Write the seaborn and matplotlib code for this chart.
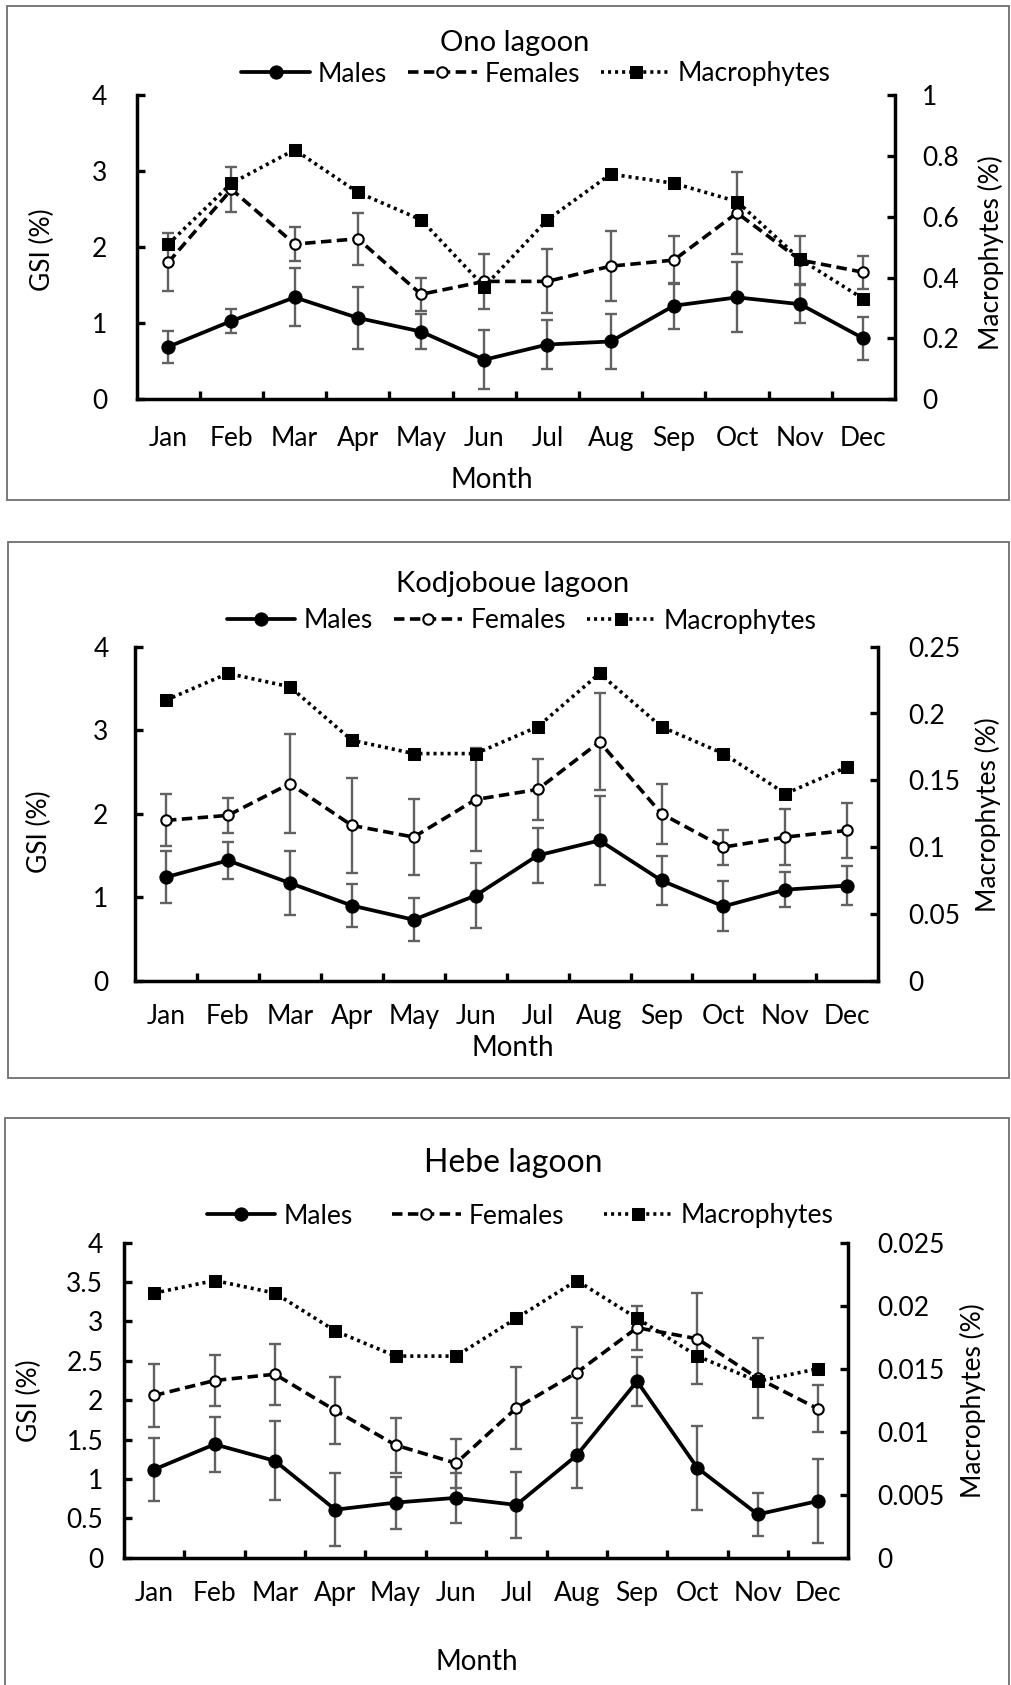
import numpy as np
import pandas as pd
import matplotlib
matplotlib.use("Agg")
import matplotlib.pyplot as plt
from matplotlib.patches import Rectangle
from matplotlib.ticker import FixedLocator, MultipleLocator, FuncFormatter
import seaborn as sns

# ---- data ----
months = ["Jan", "Feb", "Mar", "Apr", "May", "Jun",
          "Jul", "Aug", "Sep", "Oct", "Nov", "Dec"]

ono_males = [0.69, 1.03, 1.34, 1.07, 0.89, 0.52, 0.72, 0.76, 1.23, 1.34, 1.25, 0.80]
ono_males_sd = [0.21, 0.16, 0.38, 0.41, 0.23, 0.39, 0.32, 0.36, 0.30, 0.46, 0.25, 0.28]
ono_females = [1.80, 2.76, 2.04, 2.11, 1.38, 1.55, 1.55, 1.75, 1.83, 2.45, 1.83, 1.67]
ono_females_sd = [0.38, 0.30, 0.22, 0.34, 0.22, 0.36, 0.42, 0.46, 0.31, 0.54, 0.32, 0.22]
ono_macro = [0.51, 0.71, 0.82, 0.68, 0.59, 0.37, 0.59, 0.74, 0.71, 0.65, 0.46, 0.33]

kodj_males = [1.24, 1.44, 1.17, 0.90, 0.73, 1.02, 1.50, 1.68, 1.20, 0.89, 1.09, 1.14]
kodj_males_sd = [0.31, 0.22, 0.38, 0.26, 0.26, 0.39, 0.33, 0.53, 0.29, 0.30, 0.21, 0.23]
kodj_females = [1.92, 1.98, 2.36, 1.86, 1.72, 2.17, 2.29, 2.86, 2.00, 1.60, 1.72, 1.80]
kodj_females_sd = [0.31, 0.21, 0.59, 0.57, 0.46, 0.62, 0.36, 0.58, 0.36, 0.21, 0.34, 0.33]
kodj_macro = [0.21, 0.23, 0.22, 0.18, 0.17, 0.17, 0.19, 0.23, 0.19, 0.17, 0.14, 0.16]

hebe_males = [1.12, 1.44, 1.23, 0.61, 0.70, 0.76, 0.67, 1.30, 2.24, 1.14, 0.55, 0.72]
hebe_males_sd = [0.40, 0.35, 0.50, 0.46, 0.33, 0.32, 0.42, 0.41, 0.31, 0.53, 0.27, 0.53]
hebe_females = [2.06, 2.25, 2.33, 1.87, 1.43, 1.20, 1.90, 2.35, 2.92, 2.78, 2.28, 1.89]
hebe_females_sd = [0.40, 0.32, 0.39, 0.42, 0.35, 0.31, 0.52, 0.58, 0.28, 0.58, 0.51, 0.30]
hebe_macro = [0.021, 0.022, 0.021, 0.018, 0.016, 0.016, 0.019, 0.022, 0.019, 0.016, 0.014, 0.015]

# ---- style ----
sns.set_style("ticks")
plt.rcParams["font.family"] = ["Lato", "DejaVu Sans"]
for key in ["text.color", "axes.labelcolor", "xtick.color", "ytick.color", "axes.edgecolor"]:
    plt.rcParams[key] = "black"

W, H = 1011, 1685
ERR_COLOR = "#616161"
BOX_COLOR = "#6e6e6e"
FS = 19

fig = plt.figure(figsize=(W / 100, H / 100), dpi=100)


def px_rect(x0, y0, x1, y1):
    return [x0 / W, 1 - y1 / H, (x1 - x0) / W, (y1 - y0) / H]


def draw_panel(p):
    ax = fig.add_axes(px_rect(*p["axes_px"]))
    ax2 = ax.twinx()

    df = pd.DataFrame({"Month": months, "Males": p["males"],
                       "Females": p["females"], "Macrophytes": p["macro"]})

    sns.lineplot(data=df, x="Month", y="Males", ax=ax, sort=False, errorbar=None,
                 color="black", linewidth=2.7, marker="o", markersize=9.5,
                 markerfacecolor="black", markeredgecolor="black", legend=False, zorder=3)
    male_line = ax.lines[-1]
    sns.lineplot(data=df, x="Month", y="Females", ax=ax, sort=False, errorbar=None,
                 color="black", linewidth=2.6, marker="o", markersize=7.5,
                 markerfacecolor="white", markeredgecolor="black", markeredgewidth=1.5,
                 legend=False, zorder=3)
    female_line = ax.lines[-1]
    female_line.set_dashes((2.9, 1.5))

    ax.errorbar(months, p["males"], yerr=p["males_sd"], fmt="none", ecolor=ERR_COLOR,
                elinewidth=1.7, capsize=4.3, capthick=1.7, zorder=2)
    ax.errorbar(months, p["females"], yerr=p["females_sd"], fmt="none", ecolor=ERR_COLOR,
                elinewidth=1.7, capsize=4.3, capthick=1.7, zorder=2)

    sns.lineplot(data=df, x="Month", y="Macrophytes", ax=ax2, sort=False, errorbar=None,
                 color="black", linewidth=2.6, marker="s", markersize=8,
                 markerfacecolor="black", markeredgecolor="black", legend=False)
    macro_line = ax2.lines[-1]
    macro_line.set_dashes((0.85, 1.1))

    # axes limits / ticks
    ax.set_xlim(-0.5, len(months) - 0.5)
    ax.set_ylim(0, 4)
    ax2.set_ylim(0, p["macro_max"])
    ax.yaxis.set_major_locator(MultipleLocator(p["gsi_step"]))
    ax2.yaxis.set_major_locator(MultipleLocator(p["macro_max"] / 5))
    fmt = FuncFormatter(lambda v, pos: "%g" % round(v, 6))
    ax.yaxis.set_major_formatter(fmt)
    ax2.yaxis.set_major_formatter(fmt)

    ax.xaxis.set_minor_locator(FixedLocator(np.arange(0.5, len(months) - 1, 1.0)))
    ax.tick_params(axis="x", which="major", length=0, labelsize=FS, pad=p["xpad"])
    ax.tick_params(axis="x", which="minor", direction="in", length=6, width=2.4, bottom=True)
    ax.tick_params(axis="y", direction="in", length=6, width=2.4, labelsize=FS,
                   pad=p["ypad_left"], left=True)
    ax2.tick_params(axis="y", direction="in", length=6, width=2.4, labelsize=FS,
                    pad=p["ypad_right"], right=True)
    for lab in ax2.get_yticklabels():
        lab.set_ha("left")

    for a in (ax, ax2):
        a.spines["top"].set_visible(False)
        for s in a.spines.values():
            s.set_linewidth(2.5)
            s.set_color("black")
    ax.spines["right"].set_visible(False)
    ax2.spines["left"].set_visible(False)
    ax2.spines["bottom"].set_visible(False)

    # labels
    ax.set_xlabel("Month", fontsize=FS + 1, va="center")
    ax.xaxis.set_label_coords(*p["month_xy"])
    ax.set_ylabel("GSI (%)", fontsize=FS, va="center")
    ax.yaxis.set_label_coords(*p["gsi_xy"])
    ax2.set_ylabel("Macrophytes (%)", fontsize=FS, va="center", rotation=90)
    ax2.yaxis.set_label_coords(*p["macro_xy"])

    tx, ty = p["title_px"]
    fig.text(tx / W, 1 - ty / H, p["title"], ha="center", va="center", fontsize=p["title_fs"])

    lx, ly = p["legend_px"]
    fig.legend([male_line, female_line, macro_line], ["Males", "Females", "Macrophytes"],
               loc="center", bbox_to_anchor=(lx / W, 1 - ly / H), ncol=3, frameon=False,
               fontsize=FS, handlelength=2.6, handletextpad=0.3,
               columnspacing=p["colspace"], borderpad=0, borderaxespad=0)

    bx0, by0, bx1, by1 = p["box_px"]
    fig.patches.append(Rectangle((bx0 / W, 1 - by1 / H), (bx1 - bx0) / W, (by1 - by0) / H,
                                 transform=fig.transFigure, fill=False,
                                 edgecolor=BOX_COLOR, linewidth=1.3))


panels = [
    dict(title="Ono lagoon", title_fs=21, males=ono_males, males_sd=ono_males_sd,
         females=ono_females, females_sd=ono_females_sd, macro=ono_macro,
         macro_max=1.0, gsi_step=1.0,
         axes_px=(136.7, 95, 895, 399.3), box_px=(7, 6, 1009, 500),
         title_px=(515, 42.7), legend_px=(536, 74), colspace=0.8,
         xpad=19, ypad_left=21, ypad_right=19.5,
         month_xy=(0.4686, -0.265), gsi_xy=(-0.124, 0.491), macro_xy=(1.127, 0.481)),
    dict(title="Kodjoboue lagoon", title_fs=21, males=kodj_males, males_sd=kodj_males_sd,
         females=kodj_females, females_sd=kodj_females_sd, macro=kodj_macro,
         macro_max=0.25, gsi_step=1.0,
         axes_px=(135, 646.7, 878.3, 980.7), box_px=(7.7, 542.5, 1009, 1078),
         title_px=(513, 584), legend_px=(521.5, 621), colspace=0.8,
         xpad=17, ypad_left=19, ypad_right=21.5,
         month_xy=(0.5085, -0.2), gsi_xy=(-0.128, 0.445), macro_xy=(1.148, 0.496)),
    dict(title="Hebe lagoon", title_fs=23, males=hebe_males, males_sd=hebe_males_sd,
         females=hebe_females, females_sd=hebe_females_sd, macro=hebe_macro,
         macro_max=0.025, gsi_step=0.5,
         axes_px=(124, 1242.7, 848.3, 1557.7), box_px=(5, 1118, 1009, 1700),
         title_px=(513, 1163), legend_px=(520, 1216), colspace=1.5,
         xpad=17, ypad_left=15, ypad_right=21,
         month_xy=(0.487, -0.331), gsi_xy=(-0.131, 0.5), macro_xy=(1.172, 0.5)),
]

for p in panels:
    draw_panel(p)

fig.savefig("out.png", dpi=100, facecolor="white")
